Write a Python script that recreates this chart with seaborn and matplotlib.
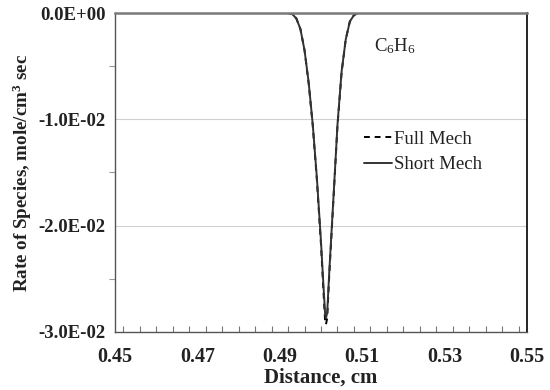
import matplotlib
matplotlib.use("Agg")
import matplotlib.pyplot as plt
import seaborn as sns
import pandas as pd
from matplotlib.ticker import MultipleLocator, FixedLocator
from matplotlib.lines import Line2D

distance = [0.450, 0.490, 0.492, 0.493, 0.494, 0.495, 0.496, 0.497, 0.498, 0.499,
            0.500, 0.5005, 0.501, 0.5012, 0.5015, 0.502, 0.503, 0.504, 0.505,
            0.506, 0.507, 0.508, 0.509, 0.512, 0.550]
full_mech = [0.0, 0.0, 0.0, -0.0001, -0.0005, -0.0015, -0.0035, -0.0066, -0.0106, -0.0157,
             -0.0218, -0.0255, -0.0290, -0.0293, -0.0287, -0.0247, -0.0177, -0.0106, -0.0056,
             -0.0025, -0.0008, -0.0002, 0.0, 0.0, 0.0]
short_mech = [0.0, 0.0, 0.0, -0.0001, -0.0005, -0.0015, -0.0035, -0.0065, -0.0105, -0.0155,
              -0.0215, -0.0250, -0.0283, -0.0287, -0.0282, -0.0244, -0.0175, -0.0105, -0.0055,
              -0.0025, -0.0008, -0.0002, 0.0, 0.0, 0.0]
x_ticks = [0.45, 0.47, 0.49, 0.51, 0.53, 0.55]
y_ticks = [-0.03, -0.02, -0.01, 0.0]
y_tick_labels = ["-3.0E-02", "-2.0E-02", "-1.0E-02", "0.0E+00"]

sns.set_theme(style="white")
plt.rcParams['font.family'] = ['Liberation Serif', 'DejaVu Serif']
plt.rcParams['mathtext.fontset'] = 'custom'
plt.rcParams['mathtext.rm'] = 'Liberation Serif'
plt.rcParams['mathtext.it'] = 'Liberation Serif:italic'
plt.rcParams['mathtext.bf'] = 'Liberation Serif:bold'

df = pd.concat([
    pd.DataFrame({"x": distance, "y": full_mech, "Series": "Full Mech"}),
    pd.DataFrame({"x": distance, "y": short_mech, "Series": "Short Mech"}),
])

fig = plt.figure(figsize=(5.5, 3.9), dpi=100)
ax = fig.add_axes([115/550, 1-332/390, (527-115)/550, (332-13)/390])

sns.lineplot(data=df, x="x", y="y", style="Series", hue="Series",
             palette={"Full Mech": "black", "Short Mech": "#333333"},
             dashes={"Full Mech": (3, 2.5), "Short Mech": ""},
             linewidth=1.4, ax=ax, legend=False, sort=False)

ax.set_xlim(0.45, 0.55)
ax.set_ylim(-0.03, 0.0)
ax.xaxis.set_major_locator(FixedLocator(x_ticks))
ax.xaxis.set_minor_locator(MultipleLocator(0.004))
ax.yaxis.set_major_locator(FixedLocator(y_ticks))
ax.yaxis.set_minor_locator(MultipleLocator(0.005))
ax.set_xticklabels([f"{v:.2f}" for v in x_ticks])
ax.set_yticklabels(y_tick_labels)

ax.grid(axis="y", which="major", color="#d0d0d0", linewidth=0.8)
ax.set_axisbelow(True)

for lbl in ax.get_xticklabels():
    lbl.set_fontweight("bold")
    lbl.set_fontsize(14.5)
for lbl in ax.get_yticklabels():
    lbl.set_fontweight("bold")
    lbl.set_fontsize(13.5)
ax.tick_params(axis="both", which="major", colors="#555555",
               labelcolor="#222222", direction="out", length=5, width=0.8)
ax.tick_params(axis="x", which="minor", direction="in", length=4, width=0.8,
               colors="#777777", bottom=True)
ax.tick_params(axis="y", which="minor", direction="out", length=4, width=0.8,
               colors="#999999", left=True)
ax.tick_params(axis="x", which="major", pad=6)
ax.tick_params(axis="y", which="major", pad=2)

ax.set_xlabel("Distance, cm", fontsize=15, fontweight="bold", color="#222222", labelpad=0)
ax.set_ylabel("Rate of Species, mole/cm$^{\\mathbf{3}}$ sec", fontsize=13.7, fontweight="bold",
              color="#222222")
ax.yaxis.set_label_coords(-0.196, 0.50)

ax.spines["top"].set_color("#7a7a7a")
ax.spines["top"].set_linewidth(1.8)
ax.spines["right"].set_color("black")
ax.spines["right"].set_linewidth(1.2)
ax.spines["left"].set_color("#555555")
ax.spines["left"].set_linewidth(1.0)
ax.spines["bottom"].set_color("#555555")
ax.spines["bottom"].set_linewidth(1.0)

ax.text(0.5128, -0.0022, "C$_6$H$_6$", fontsize=13.5, ha="left", va="top", color="#222222")

handles = [Line2D([0], [0], color="black", lw=1.4, dashes=(3, 2.5)),
           Line2D([0], [0], color="#333333", lw=1.4)]
ax.legend(handles, ["Full Mech", "Short Mech"], loc="upper left",
          bbox_to_anchor=(0.585, 0.655), frameon=False, fontsize=13.5,
          handlelength=1.5, handletextpad=0.1, labelspacing=0.45,
          labelcolor="#222222", borderaxespad=0)

fig.savefig("out.png", dpi=100)
